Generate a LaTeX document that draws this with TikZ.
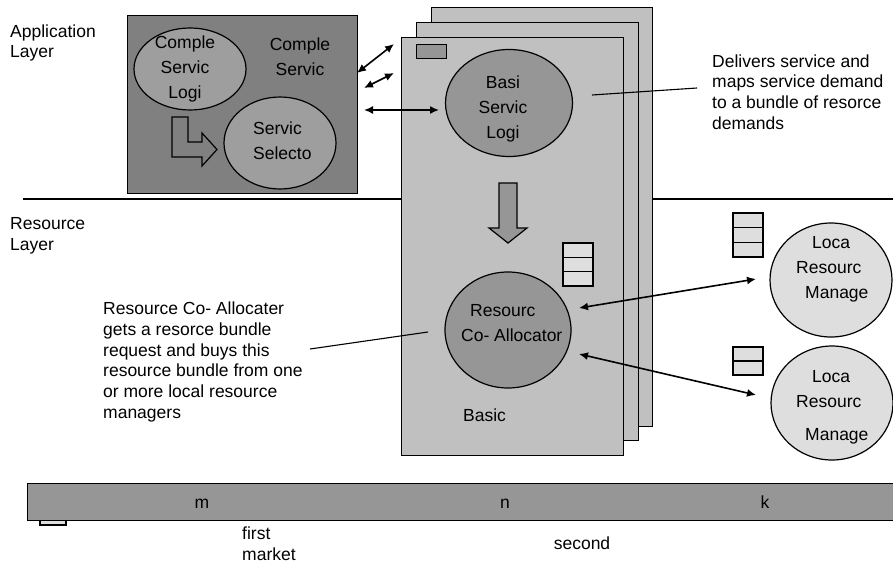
\documentclass[tikz,border=0pt]{standalone}
\usepackage{fontspec}
\setmainfont{Liberation Sans}
\usetikzlibrary{shapes.geometric,arrows.meta}
\definecolor{boxdark}{RGB}{128,128,128}
\definecolor{ellmid}{RGB}{158,158,158}
\definecolor{stackgray}{RGB}{192,192,192}
\definecolor{midgray}{RGB}{150,150,150}
\definecolor{cellgray}{RGB}{222,222,222}
\newcommand{\dtext}{\fontsize{17.5}{20.8}\selectfont}
\newcommand{\etext}{\fontsize{17.5}{25}\selectfont}
\begin{document}
\begin{tikzpicture}[x=1pt,y=-1pt,
  outl/.style={draw=black, line width=1.2pt},
  txt/.style={font=\dtext, inner sep=0pt, align=left},
  etxt/.style={font=\etext, inner sep=0pt, align=center},
  ell/.style={ellipse, outl, inner sep=0pt},
  rbox/.style={outl, anchor=north west, inner sep=0pt},
  dbl/.style={{Latex[length=9pt,width=8pt]}-{Latex[length=9pt,width=8pt]}, line width=1.6pt},
  callout/.style={line width=1.1pt},
]
\useasboundingbox (0,0) rectangle (893,564);

% layer divider
\draw[line width=1.2pt] (23,199) -- (893,199);

% layer labels
\node[txt, anchor=west] (applayer) at (10,43) {Application\\Layer};
\node[txt, anchor=west] (reslayer) at (10,236) {Resource\\Layer};

% application box
\node[rbox, fill=boxdark, minimum width=230pt, minimum height=178pt] (app) at (127,15) {};
\node[ell, fill=ellmid, minimum width=112pt, minimum height=82pt] (csl) at (190,69) {};
\node[etxt] (cslt) at (185,69) {Comple\\Servic\\Logi};
\node[etxt] (cst) at (300,57) {Comple\\Servic};
\node[ell, fill=ellmid, minimum width=112pt, minimum height=92pt] (ss) at (280,143) {};
\node[etxt, align=left, anchor=west] (sst) at (253,141) {Servic\\Selecto};
\draw[outl, fill=boxdark] (172,117) -- (188,117) -- (188,142) -- (202,142) -- (202,133)
  -- (217,149.5) -- (202,166) -- (202,157) -- (172,157) -- cycle;

% stack of basic services
\node[rbox, fill=stackgray, minimum width=221pt, minimum height=419pt] (s3) at (431,7) {};
\node[rbox, fill=stackgray, minimum width=222pt, minimum height=418pt] (s2) at (416,22) {};
\node[rbox, fill=stackgray, minimum width=222pt, minimum height=418pt] (s1) at (401,37) {};
\node[rbox, fill=midgray, minimum width=30pt, minimum height=14pt] (tag) at (416,44) {};
\node[ell, fill=midgray, minimum width=127pt, minimum height=107pt] (bsl) at (509,103) {};
\node[etxt] (bslt) at (503,109) {Basi\\Servic\\Logi};
\draw[outl, fill=midgray] (499,183) -- (517,183) -- (517,228) -- (527,228) -- (508,243)
  -- (489,228) -- (499,228) -- cycle;
\draw[outl, fill=cellgray] (563,243) rectangle (593,286);
\draw[outl] (563,257.3) -- (593,257.3);
\draw[outl] (563,271.7) -- (593,271.7);
\node[ell, fill=midgray, minimum width=126pt, minimum height=116pt] (rca) at (508,330) {};
\node[etxt, align=left, anchor=west] (rcat) at (461,323) {\hspace*{9pt}Resourc\\Co- Allocator};
\node[txt, anchor=west] (basic) at (463,415) {Basic};

% local resource managers
\draw[outl, fill=cellgray] (733,213) rectangle (763,257);
\draw[outl] (733,227.7) -- (763,227.7);
\draw[outl] (733,242.3) -- (763,242.3);
\draw[outl, fill=cellgray] (733,347) rectangle (763,375);
\draw[outl] (733,361) -- (763,361);
\node[ell, fill=cellgray, minimum width=122pt, minimum height=114pt] (lrm1) at (831,280) {};
\node[etxt, align=left, anchor=west] (lrm1t) at (796,269) {\hspace*{16pt}Loca\\Resourc\\\hspace*{9pt}Manage};
\node[ell, fill=cellgray, minimum width=122pt, minimum height=114pt] (lrm2) at (832,403) {};
\node[etxt, align=left, anchor=west] (lrm2t) at (796,407) {\hspace*{16pt}Loca\\Resourc\\[8pt]\hspace*{9pt}Manage};

% arrows between application box and stack
\coordinate (a1s) at (357,73);  \coordinate (a1e) at (394,44);
\coordinate (a2s) at (364,88);  \coordinate (a2e) at (394,73);
\coordinate (a3s) at (364,110); \coordinate (a3e) at (439,110);
\draw[dbl] (a1s) -- (a1e);
\draw[dbl] (a2s) -- (a2e);
\draw[dbl] (a3s) -- (a3e);

% arrows co-allocator <-> local managers
\coordinate (c1s) at (579,308); \coordinate (c1e) at (756,279);
\coordinate (c2s) at (579,354); \coordinate (c2e) at (756,395);
\draw[dbl] (c1s) -- (c1e);
\draw[dbl] (c2s) -- (c2e);

% callouts
\node[txt, anchor=west] (deliv) at (712,92) {Delivers service and\\maps service demand\\to a bundle of resorce\\demands};
\coordinate (d1) at (592,95); \coordinate (d2) at (697,88);
\draw[callout] (d1) -- (d2);
\node[txt, anchor=west] (coall) at (103,362) {Resource Co- Allocater\\gets a resorce bundle\\request and buys this\\resource bundle from one\\or more local resource\\managers};
\coordinate (r1) at (310,349); \coordinate (r2) at (428,332);
\draw[callout] (r1) -- (r2);

% market bar
\draw[outl, fill=cellgray] (40,515) rectangle (66,525);
\node[rbox, fill=midgray, minimum width=868pt, minimum height=37pt] (bar) at (27,483) {};
\node[txt, anchor=base] (mm) at (202,508) {m};
\node[txt, anchor=base] (nn) at (505,508) {n};
\node[txt, anchor=base] (kk) at (765,508) {k};
\node[txt, anchor=west] (first) at (242,544) {first\\market};
\node[txt] (second) at (582,543) {second};
\end{tikzpicture}
\end{document}
